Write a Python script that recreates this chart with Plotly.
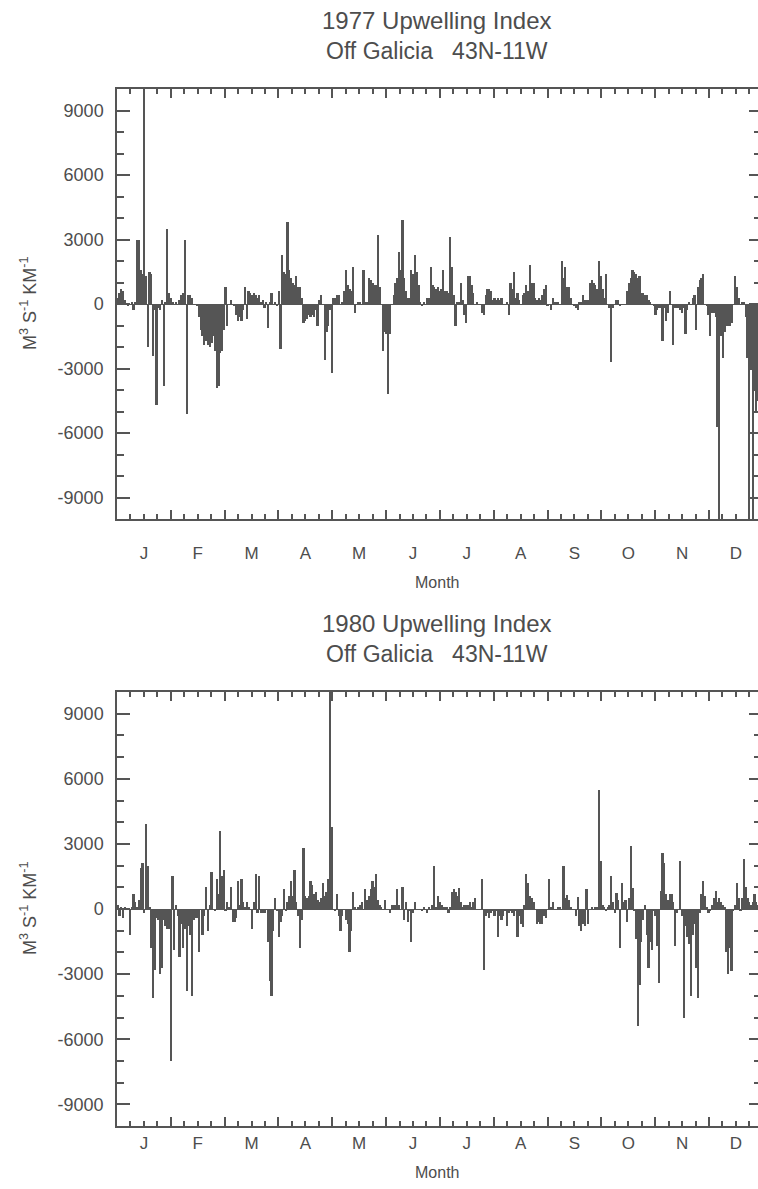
import plotly.graph_objects as go

# ---------------- data (daily upwelling index, m3 s-1 km-1) ----------------
days = list(range(365))
month_letters = ["J", "F", "M", "A", "M", "J", "J", "A", "S", "O", "N", "D"]
y_tick_values = [-9000, -6000, -3000, 0, 3000, 6000, 9000]
y_tick_labels = ["-9000", "-6000", "-3000", "0", "3000", "6000", "9000"]

upwelling_1977 = [
    300, 500, 700, 600, 200, 0, -100, 0, 100, -300,
    100, 3000, 3000, 1600, 1400, 10500, 1300, -2000, 1500, 1400,
    -2400, -300, -4700, -200, -300, 200, -3800, 100, 3500, 500,
    300, 100, 0, 100, 0, 200, 400, 500, 3000, -5100,
    400, 400, 300, 0, 0, -100, -600, -1200, -1500, -1900,
    -1700, -1900, -2000, -1800, -1500, -2200, -3900, -3800, -2300, -2200,
    -1200, 800, -1000, 0, 200, 0, -100, -500, -800, -600,
    -800, -300, 800, -700, 600, 500, 400, 500, 400, 300,
    400, 100, 200, -200, 100, -1100, 100, 500, 0, 100,
    -100, 600, -2100, 2300, 1500, 1400, 3800, 1600, 1200, 1000,
    900, 1300, 800, 800, 300, -900, -800, -700, -500, -600,
    -500, -600, -300, -1000, 200, 400, 0, -2600, -1300, -1000,
    -300, -3200, 300, 300, 400, 400, 0, 100, 600, 1600,
    900, 700, 600, 1700, -400, 0, 100, 100, 0, 1600,
    100, 100, 1200, 1100, 1000, 900, 900, 3200, 800, 0,
    -2200, -1300, -1400, -4200, -1400, 0, 400, 1000, 1200, 2400,
    1600, 3900, 1200, 600, 300, 300, 1600, 1400, 2300, 1500,
    900, 100, -100, 100, 0, 300, 300, 1700, 900, 800,
    700, 800, 600, 700, 1600, 600, 600, 500, 3100, 1700,
    400, -1000, 100, 100, 1000, 200, -500, -900, 1300, 1300,
    900, 500, 0, 100, 0, 0, -400, -500, 400, 700,
    700, 600, 200, 300, 200, 300, 200, 300, 0, 0,
    100, -500, 1000, 700, 1500, 300, 500, 200, 0, 400,
    500, 900, 600, 1800, 1000, 1000, 300, 200, 300, 200,
    400, 700, 900, -100, 0, -300, 300, 100, 100, 100,
    0, 2000, 1200, 1700, 800, 800, 300, 0, -100, -200,
    -300, 100, 100, 400, 200, 200, 200, 1000, 1100, 1000,
    900, 700, 2000, 1300, 700, 300, 1400, 0, -200, -2700,
    -200, 0, 200, 200, -100, 0, 0, 0, 600, 1000,
    1200, 1600, 1500, 1400, 1200, 1300, 500, 500, 400, 400,
    200, 100, 0, -100, -500, -300, -200, -200, -1700, -200,
    -800, -400, 600, 0, -1900, -200, -200, -200, -300, -400,
    -200, -1400, -300, 100, 0, 300, 400, -1200, 800, 1100,
    1200, 1400, 0, -100, -500, -1500, -400, -400, -600, -5700,
    -10500, -1500, -2500, -1300, -1000, -1000, -1000, -900, 0, 1300,
    800, 300, 0, 100, 100, -600, -2500, -10500, -3000, -10500,
    -4000, -5000, -4500, -4000, -4000,
]

upwelling_1980 = [
    200, -300, 100, -400, 100, 0, 0, -1200, 100, 700,
    300, 100, 400, 1900, 2100, -200, 3900, 2000, 100, -1800,
    -4100, -2800, -400, -500, -3000, -2700, -500, -800, -900, -900,
    -7000, 1500, -1900, 200, -300, -2200, -700, -1800, -900, -3800,
    -800, -1200, -4000, -500, -400, -400, -2000, 0, -1200, -300,
    1000, -1000, 200, 1700, 0, -100, 1400, 700, 3600, 1500,
    1800, -100, 300, 100, 1000, -600, -600, -400, 1300, 200,
    1400, 300, 100, 300, 100, 0, -900, 300, 1600, -200,
    1500, -200, -200, -200, 0, -1500, -3300, -4000, -1000, 500,
    -100, -1300, -600, -300, 900, -100, 300, 600, 1300, 600,
    1800, 300, -300, -1800, -500, 2800, 600, 500, 600, 1300,
    1100, 700, 800, 400, 300, 500, 1200, 600, 800, 1400,
    10500, 3800, 0, -100, 700, -300, -1000, -300, 0, -500,
    -700, -2000, -1000, 800, 100, 0, 100, 200, 300, 0,
    900, 400, 600, 900, 1300, 1000, 1600, 400, 200, 100,
    0, 400, 0, 0, -200, 200, 200, 200, 900, 200,
    0, 1000, -500, 300, -600, -100, -1500, -200, 300, 0,
    0, 0, -100, 100, 0, -200, 100, 0, 200, 2000,
    100, 600, 300, 200, 100, 100, 100, -200, 100, 800,
    900, 800, 600, 950, 300, 100, 200, 200, 200, 300,
    100, 300, 500, 0, 0, 0, 1400, -2800, -300, -200,
    -400, -200, -100, -300, -100, -1300, -300, -500, -300, -100,
    -800, -200, -100, -200, -300, -100, -1300, -300, -700, -850,
    200, 1600, 1200, 600, 500, 300, 0, -700, -600, -700,
    -700, -300, -400, 0, 1400, 100, 300, 0, 0, 100,
    100, 0, 2000, 500, 650, 400, 100, 0, 0, -300,
    550, -800, -1000, -700, -800, 900, -700, 0, 100, 0,
    100, 100, 5500, 2200, 200, 100, -100, 100, 200, 1500,
    300, -200, 750, 400, -1800, 1200, 300, 400, -600, 500,
    2900, 950, -100, -1400, -5400, -3500, -1500, -500, 200, -1200,
    -2700, -1500, -1900, -100, -300, -1700, -3400, 850, 2600, 2100,
    700, 400, 700, 700, 300, -1700, -200, 0, 2200, -300,
    -5000, -800, -1300, -1600, -4000, -1200, -700, -2700, -4100, -200,
    700, 1300, 600, 100, -200, -100, 200, 500, 850, 300,
    500, 300, 200, 100, -2000, -3000, -1800, -2850, -100, 200,
    1200, 500, -100, 500, 2300, 1000, 500, 300, 200, 300,
    700, 300, 200, 100, 0,
]

# ---------------- styling ----------------
W, H = 758, 1189
FONT = "Liberation Sans"
TXT = "#4d4d4d"
AX = "#555555"
BAR = "#555555"


def py(p):
    return 1 - p / H


XDOM = [117 / W, 1.0]
XRANGE = [0, 362.3]
YRANGE = [-10000, 10000]
panels = [
    dict(year="1977", data=upwelling_1977, dom=[py(519), py(89)], top=89, bottom=519,
         xstandoff=18, month_y=582),
    dict(year="1980", data=upwelling_1980, dom=[py(1126), py(692)], top=692, bottom=1126,
         xstandoff=1, month_y=1172),
]

month_len = 365 / 12
month_centers = [(i + 0.5) * month_len for i in range(12)]
month_bounds = [i * month_len for i in range(1, 12)]
quarter_ticks = [(i + q / 4) * month_len for i in range(12) for q in (1, 2, 3)]
x_centers = [d + 0.5 for d in days]

fig = go.Figure()
layout = dict(
    width=W, height=H, autosize=False,
    margin=dict(l=0, r=0, t=0, b=0, pad=0),
    paper_bgcolor="white", plot_bgcolor="white",
    showlegend=False, bargap=0,
    font=dict(family=FONT, color=TXT),
    annotations=[],
)

for k, p in enumerate(panels):
    n = 2 * k + 1
    xa, ya = f"x{'' if n == 1 else n}", f"y{'' if n == 1 else n}"
    xb, yb = f"x{n + 1}", f"y{n + 1}"
    xa_key = "xaxis" if n == 1 else f"xaxis{n}"
    ya_key = "yaxis" if n == 1 else f"yaxis{n}"

    fig.add_trace(go.Bar(
        x=x_centers, y=p["data"], width=1.0,
        marker=dict(color=BAR, line=dict(width=0)),
        xaxis=xa, yaxis=ya, hoverinfo="skip",
    ))
    # helper traces to activate the overlay tick axes
    fig.add_trace(go.Scatter(x=[], y=[], xaxis=xb, yaxis=ya, showlegend=False))
    fig.add_trace(go.Scatter(x=[], y=[], xaxis=xa, yaxis=yb, showlegend=False))

    layout[xa_key] = dict(
        domain=XDOM, anchor=ya, range=XRANGE, showgrid=False, zeroline=False,
        showline=True, linecolor=AX, linewidth=1.5, mirror="ticks",
        tickmode="array", tickvals=month_centers, ticktext=month_letters,
        ticks="", tickfont=dict(size=17, color=TXT, family=FONT),
        ticklabelstandoff=p["xstandoff"],
        minor=dict(tickmode="array", tickvals=quarter_ticks, ticks="inside",
                   ticklen=5, tickwidth=1.5, tickcolor=AX, showgrid=False),
    )
    layout[f"xaxis{n + 1}"] = dict(
        domain=XDOM, anchor=ya, overlaying=xa, side="bottom", range=XRANGE,
        showgrid=False, zeroline=False, showline=False, mirror="ticks",
        tickmode="array", tickvals=month_bounds, ticks="inside", ticklen=9,
        tickwidth=1.5, tickcolor=AX, showticklabels=False,
    )
    layout[ya_key] = dict(
        domain=p["dom"], anchor=xa, range=YRANGE, showgrid=False,
        zeroline=True, zerolinecolor=AX, zerolinewidth=1,
        showline=True, linecolor=AX, linewidth=1.5, mirror=False,
        tickmode="array", tickvals=y_tick_values, ticktext=y_tick_labels,
        ticks="inside", ticklen=13, tickwidth=1.5, tickcolor=AX,
        ticklabelstandoff=8,
        tickfont=dict(size=18, color=TXT, family=FONT),
        minor=dict(dtick=1000, ticks="inside", ticklen=7, tickwidth=1.5,
                   tickcolor=AX, showgrid=False),
    )
    layout[f"yaxis{n + 1}"] = dict(
        domain=p["dom"], anchor=xa, overlaying=ya, side="right", range=YRANGE,
        showgrid=False, zeroline=False, showline=False,
        tickmode="array", tickvals=y_tick_values, ticks="inside", ticklen=9,
        tickwidth=1.5, tickcolor=AX, showticklabels=False,
        minor=dict(dtick=1000, ticks="inside", ticklen=4, tickwidth=1.5,
                   tickcolor=AX, showgrid=False),
    )

    cx = (117 + 758) / 2 / W
    layout["annotations"] += [
        dict(text=f"{p['year']} Upwelling Index", xref="paper", yref="paper",
             x=cx, y=py(p["top"] - 69), xanchor="center", yanchor="middle",
             showarrow=False, font=dict(size=24, color=TXT, family=FONT)),
        dict(text="Off Galicia\u00a0\u00a0 43N-11W", xref="paper", yref="paper",
             x=cx, y=py(p["top"] - 38), xanchor="center", yanchor="middle",
             showarrow=False, font=dict(size=23, color=TXT, family=FONT)),
        dict(text="Month", xref="paper", yref="paper",
             x=cx, y=py(p["month_y"]),
             xanchor="center", yanchor="middle",
             showarrow=False, font=dict(size=16, color=TXT, family=FONT)),
        dict(text="M<sup>3</sup> S<sup>-1</sup> KM<sup>-1</sup>", xref="paper", yref="paper",
             x=28 / W, y=py((p["top"] + p["bottom"]) / 2), xanchor="center", yanchor="middle",
             textangle=-90, showarrow=False, font=dict(size=18, color=TXT, family=FONT)),
    ]

fig.update_layout(**layout)
fig.write_html("out.html")
